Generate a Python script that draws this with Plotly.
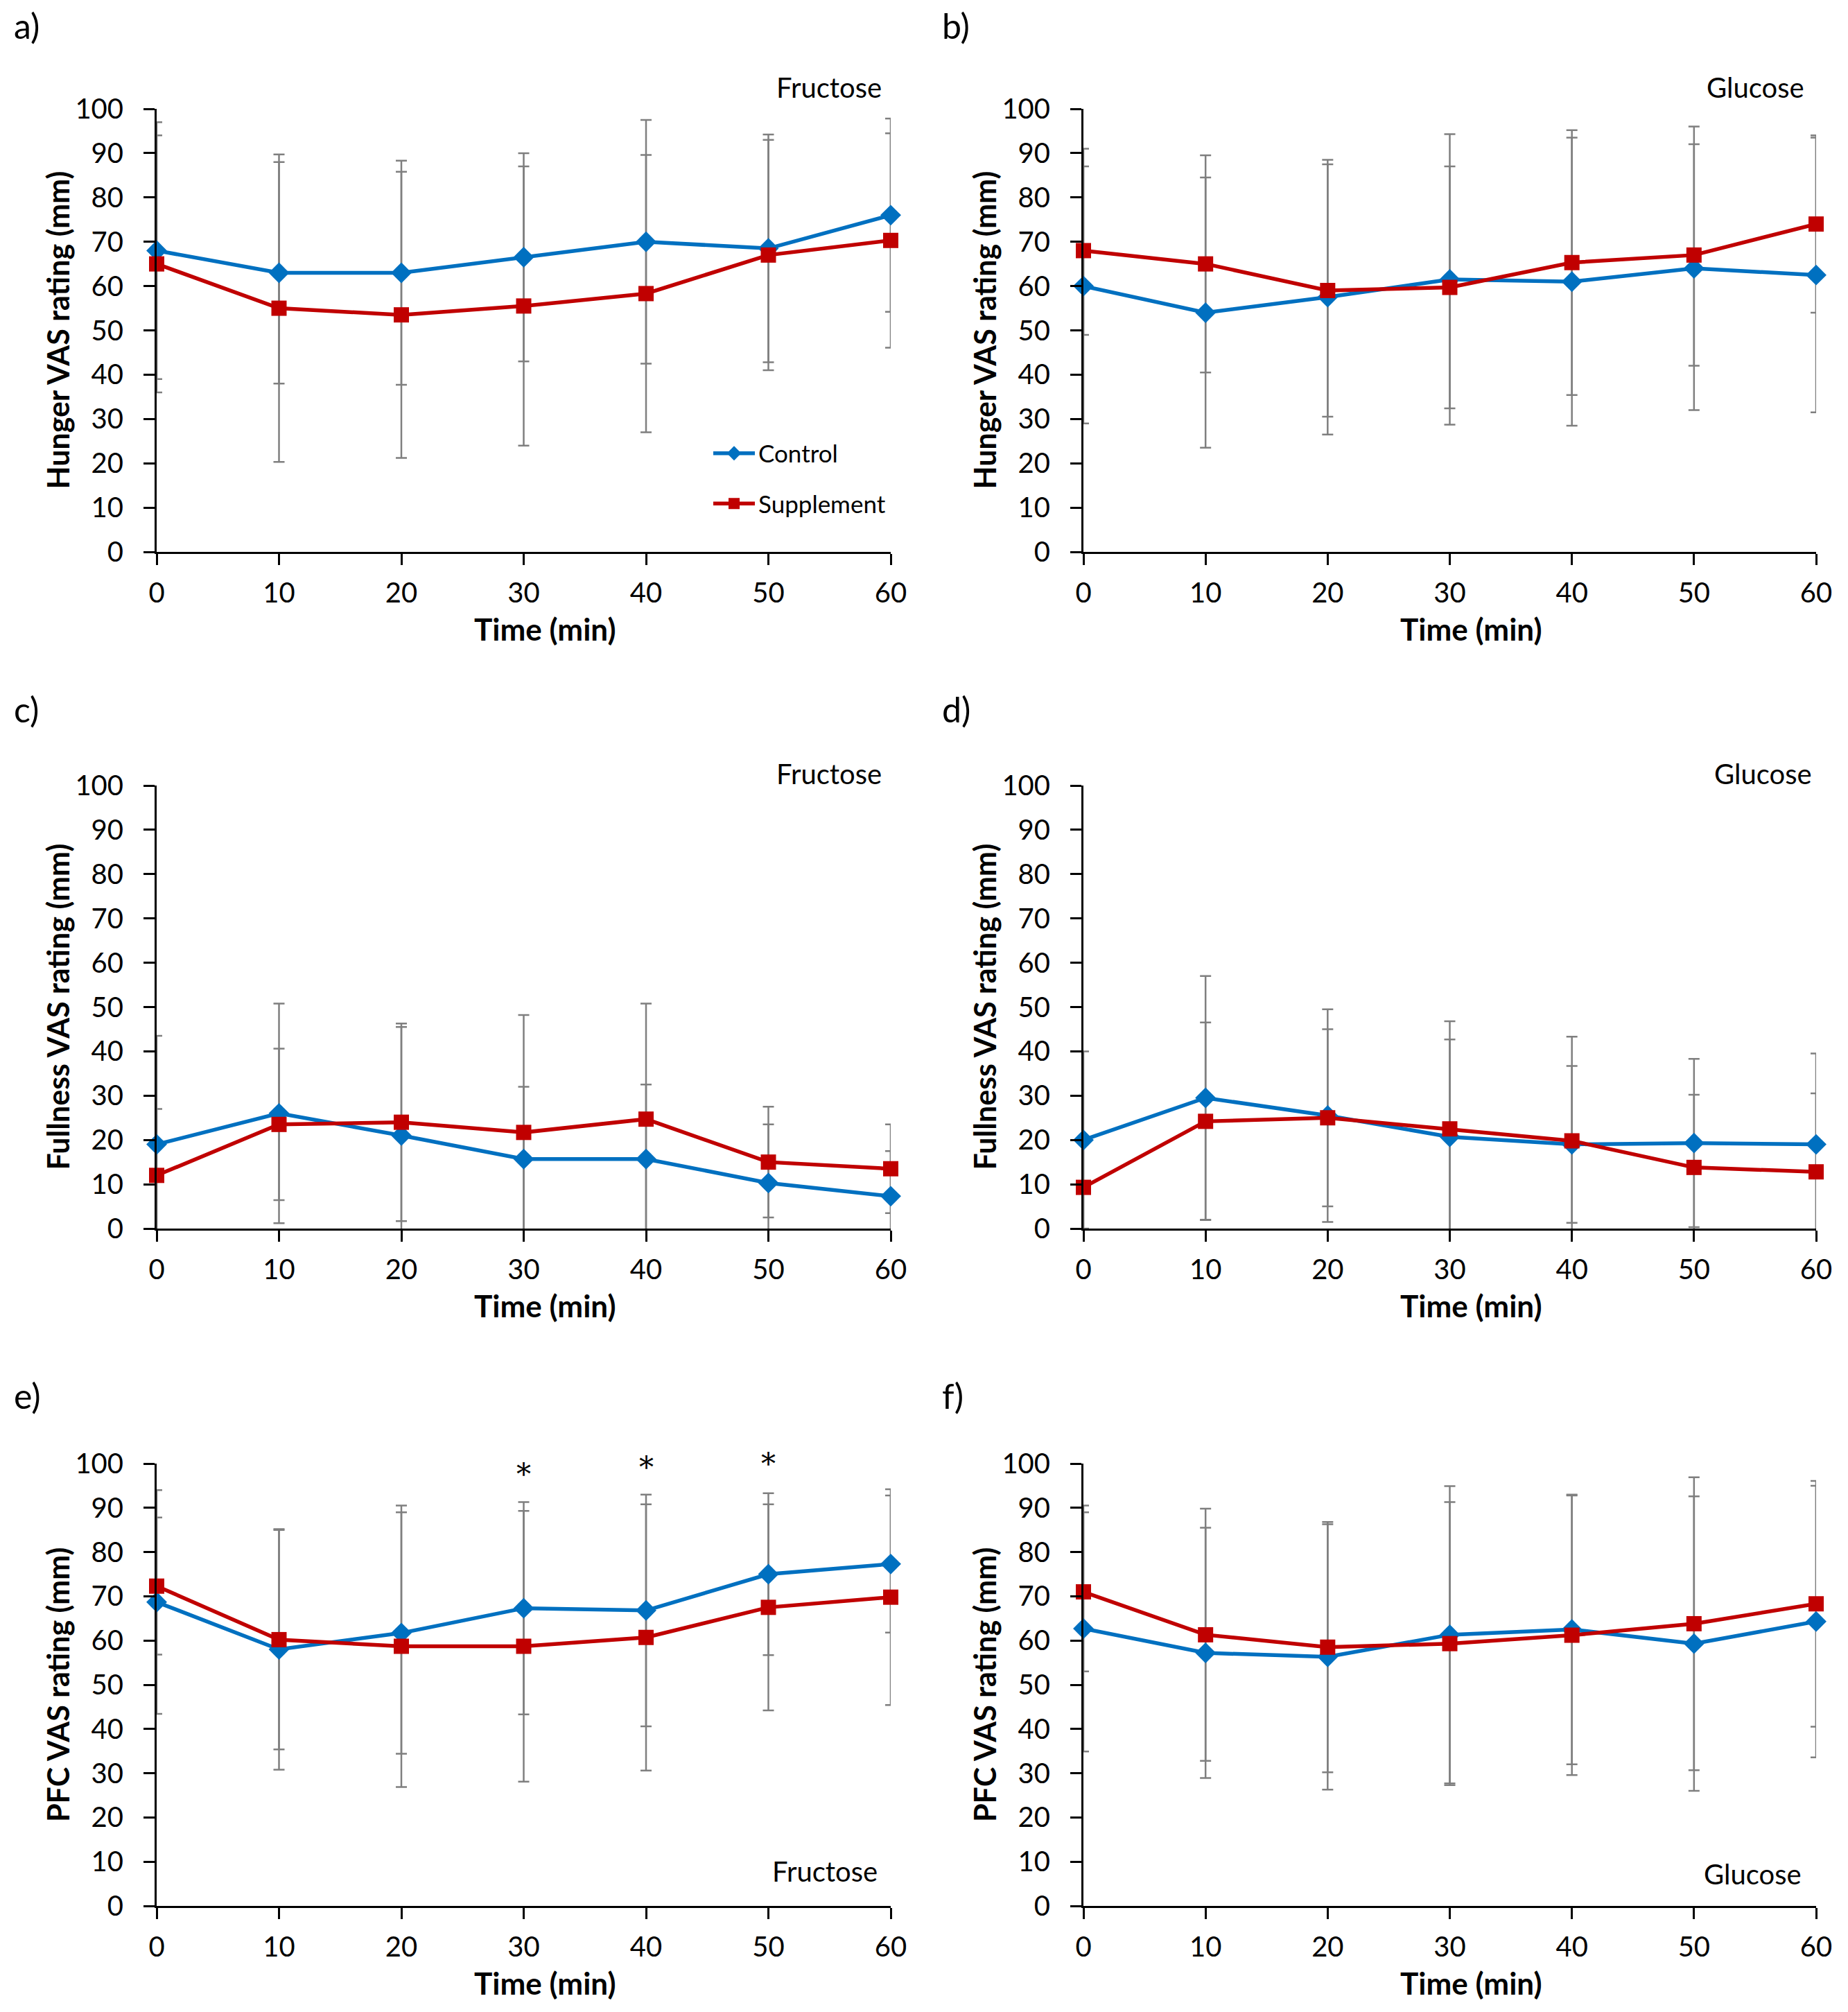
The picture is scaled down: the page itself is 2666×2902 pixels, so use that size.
import plotly.graph_objects as go

W, H = 2666, 2902
OFF = 8  # page body margin compensation
time_min = [0, 10, 20, 30, 40, 50, 60]

# a) Hunger - Fructose
hunger_fru_control = [68, 63, 63, 66.5, 70, 68.5, 76]
hunger_fru_control_sd = [29, 25, 25.3, 23.5, 27.5, 25.7, 21.8]
hunger_fru_supp = [65, 55, 53.5, 55.5, 58.3, 67, 70.3]
hunger_fru_supp_sd = [29, 34.7, 32.3, 31.5, 31.3, 26, 24.2]
# b) Hunger - Glucose
hunger_glu_control = [60, 54, 57.5, 61.5, 61, 64, 62.5]
hunger_glu_control_sd = [31, 30.5, 31, 32.8, 32.5, 32, 31]
hunger_glu_supp = [68, 65, 59, 59.7, 65.3, 67, 74]
hunger_glu_supp_sd = [19, 24.5, 28.5, 27.3, 29.9, 25, 20]
# c) Fullness - Fructose
full_fru_control = [19, 26, 21, 15.7, 15.7, 10.3, 7.3]
full_fru_control_sd = [24.5, 24.8, 24.5, 16.3, 16.8, 13.2, 10.2]
full_fru_supp = [12, 23.5, 24, 21.7, 24.7, 15, 13.5]
full_fru_supp_sd = [15, 17.1, 22.3, 26.5, 26.1, 12.5, 10]
# d) Fullness - Glucose
full_glu_control = [20, 29.5, 25.5, 20.7, 19, 19.3, 19]
full_glu_control_sd = [20, 27.5, 24, 22, 17.7, 19, 20.5]
full_glu_supp = [9.3, 24.2, 25, 22.5, 19.8, 13.8, 12.8]
full_glu_supp_sd = [10, 22.3, 20, 24.3, 23.5, 16.4, 17.7]
# e) PFC - Fructose
pfc_fru_control = [68.7, 58, 61.7, 67.3, 66.8, 75, 77.3]
pfc_fru_control_sd = [25.3, 27.2, 27.3, 24, 26.2, 18.3, 15.5]
pfc_fru_supp = [72.3, 60.2, 58.7, 58.7, 60.7, 67.5, 69.8]
pfc_fru_supp_sd = [15.5, 24.8, 31.8, 30.6, 30.1, 23.3, 24.4]
# f) PFC - Glucose
pfc_glu_control = [62.7, 57.2, 56.3, 61.3, 62.5, 59.3, 64.3]
pfc_glu_control_sd = [27.8, 28.3, 30, 33.6, 30.5, 33.3, 30.7]
pfc_glu_supp = [71, 61.3, 58.5, 59.3, 61.2, 63.8, 68.3]
pfc_glu_supp_sd = [18, 28.5, 28.3, 32, 31.6, 33.1, 27.8]

star_times = [30, 40, 50]
star_heights = [97.5, 99.2, 100]

panel_letters = ["a)", "b)", "c)", "d)", "e)", "f)"]
y_titles = ["Hunger VAS rating (mm)", "Hunger VAS rating (mm)",
            "Fullness VAS rating (mm)", "Fullness VAS rating (mm)",
            "PFC VAS rating (mm)", "PFC VAS rating (mm)"]
sugar_labels = ["Fructose", "Glucose", "Fructose", "Glucose", "Fructose", "Glucose"]
series_names = ["Control", "Supplement"]
y_ticks = list(range(0, 101, 10))

panels = [
    (hunger_fru_control, hunger_fru_control_sd, hunger_fru_supp, hunger_fru_supp_sd),
    (hunger_glu_control, hunger_glu_control_sd, hunger_glu_supp, hunger_glu_supp_sd),
    (full_fru_control, full_fru_control_sd, full_fru_supp, full_fru_supp_sd),
    (full_glu_control, full_glu_control_sd, full_glu_supp, full_glu_supp_sd),
    (pfc_fru_control, pfc_fru_control_sd, pfc_fru_supp, pfc_fru_supp_sd),
    (pfc_glu_control, pfc_glu_control_sd, pfc_glu_supp, pfc_glu_supp_sd),
]

BLUE = "#0070C0"
RED = "#C00000"
GRAY = "#7F7F7F"
FONT = "Lato"


def px(x):
    return (x - OFF) / W


def py(y):
    return 1 - (y - OFF) / H


# plot areas in pixels (left, right, top, bottom)
col_x = [(226, 1285), (1563, 2620)]
row_y = [(157, 796), (1133, 1772), (2111, 2749)]
letter_x = [18, 1357]
letter_y = [37, 1023, 2013]
# sugar label anchor (right edge x, centre y) per panel
sugar_pos = [(1274, 126), (2605, 126), (1274, 1116), (2616, 1116), (1268, 2699), (2601, 2703)]

fig = go.Figure()
layout = dict(width=W, height=H,
              margin=dict(l=0, r=0, t=0, b=0, pad=0, autoexpand=False),
              paper_bgcolor="white", plot_bgcolor="white",
              font=dict(family=FONT, color="black"),
              showlegend=True, template="none")
annotations = []

for i, (c, csd, s, ssd) in enumerate(panels):
    r, col = divmod(i, 2)
    xl, xr = col_x[col]
    yt, yb = row_y[r]
    n = i + 1
    xa = "x" if n == 1 else f"x{n}"
    ya = "y" if n == 1 else f"y{n}"
    xkey = "xaxis" if n == 1 else f"xaxis{n}"
    ykey = "yaxis" if n == 1 else f"yaxis{n}"
    layout[xkey] = dict(domain=[px(xl), px(xr)], range=[0, 60], anchor=ya,
                        tickvals=time_min, ticks="outside", ticklen=16, tickwidth=3,
                        tickcolor="black",
                        showline=True, linecolor="black", linewidth=3, showgrid=False,
                        zeroline=False, tickfont=dict(size=40, family=FONT),
                        ticklabelstandoff=6, automargin=False)
    layout[ykey] = dict(domain=[py(yb), py(yt)], range=[0, 100], anchor=xa,
                        tickvals=y_ticks, ticks="outside", ticklen=16, tickwidth=3,
                        tickcolor="black",
                        showline=True, linecolor="black", linewidth=3, showgrid=False,
                        zeroline=False, tickfont=dict(size=40, family=FONT),
                        ticklabelstandoff=21, automargin=False)
    # error bars first (underneath lines)
    for vals, sd in ((c, csd), (s, ssd)):
        fig.add_trace(go.Scatter(x=time_min, y=vals, mode="markers",
                                 marker=dict(size=1, opacity=0), showlegend=False,
                                 hoverinfo="skip", xaxis=xa, yaxis=ya,
                                 error_y=dict(type="data", array=sd, visible=True,
                                              color=GRAY, thickness=2.5, width=8)))
    fig.add_trace(go.Scatter(x=time_min, y=c, mode="lines+markers", name=series_names[0],
                             legendgroup="control",
                             line=dict(color=BLUE, width=5.5),
                             marker=dict(symbol="diamond", size=23, color=BLUE),
                             cliponaxis=False, showlegend=(i == 0), xaxis=xa, yaxis=ya))
    fig.add_trace(go.Scatter(x=time_min, y=s, mode="lines+markers", name=series_names[1],
                             legendgroup="supp",
                             line=dict(color=RED, width=5.5),
                             marker=dict(symbol="square", size=22, color=RED),
                             cliponaxis=False, showlegend=(i == 0), xaxis=xa, yaxis=ya))
    # panel letter
    annotations.append(dict(text=panel_letters[i], xref="paper", yref="paper",
                            x=px(letter_x[col]), y=py(letter_y[r]),
                            xanchor="left", yanchor="middle", showarrow=False,
                            font=dict(size=50, family=FONT)))
    # y title
    annotations.append(dict(text=f"<b>{y_titles[i]}</b>", xref="paper", yref="paper",
                            x=px(xl - 143), y=py((yt + yb) / 2), textangle=-90,
                            xanchor="center", yanchor="middle", showarrow=False,
                            font=dict(size=43, family=FONT)))
    # x title
    annotations.append(dict(text="<b>Time (min)</b>", xref="paper", yref="paper",
                            x=px((xl + xr) / 2 + 31), y=py(yb + 111),
                            xanchor="center", yanchor="middle", showarrow=False,
                            font=dict(size=44, family=FONT)))
    # sugar label
    sx, sy = sugar_pos[i]
    annotations.append(dict(text=sugar_labels[i], xref="paper", yref="paper",
                            x=px(sx), y=py(sy),
                            xanchor="right", yanchor="middle", showarrow=False,
                            font=dict(size=40, family=FONT)))

for t, h in zip(star_times, star_heights):
    annotations.append(dict(text="*", xref="x5", yref="y5", x=t, y=h,
                            xanchor="center", yanchor="middle", showarrow=False,
                            font=dict(size=42, family="DejaVu Serif")))

layout["annotations"] = annotations
layout["legend"] = dict(x=px(1024), y=py(690), xanchor="left", yanchor="middle",
                        font=dict(size=35, family=FONT), bgcolor="rgba(0,0,0,0)",
                        tracegroupgap=24, itemwidth=60)
fig.update_layout(**layout)
fig.write_html("out.html")
